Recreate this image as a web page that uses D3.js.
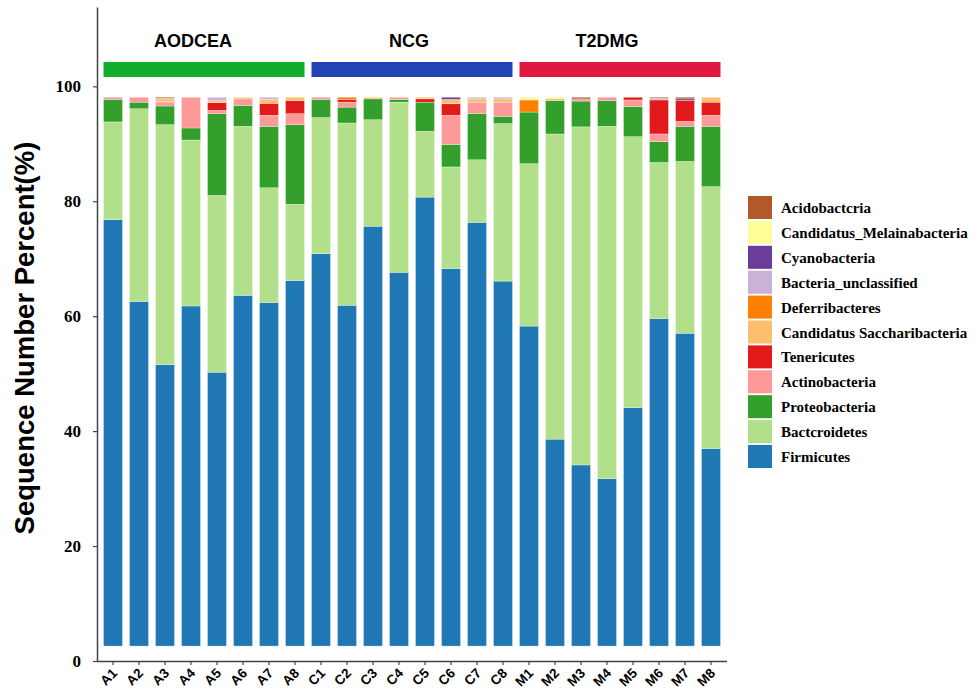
<!DOCTYPE html>
<html>
<head>
<meta charset="utf-8">
<script src="https://cdn.jsdelivr.net/npm/d3@7"></script>
<style>
    body { margin: 0; background: #fff; }
    svg { display: block; }
</style>
</head>
<body>
<svg id="chart" width="977" height="691"></svg>
<script>
// Samples and groups
const samples = ['A1', 'A2', 'A3', 'A4', 'A5', 'A6', 'A7', 'A8',
                 'C1', 'C2', 'C3', 'C4', 'C5', 'C6', 'C7', 'C8',
                 'M1', 'M2', 'M3', 'M4', 'M5', 'M6', 'M7', 'M8'];
const groupNames = ['AODCEA', 'NCG', 'T2DMG'];
const groupFirst = ['A1', 'C1', 'M1'];
const groupLast = ['A8', 'C8', 'M8'];
const groupColors = ['#13ac2b', '#2343b4', '#e0173e'];

// Phyla, bottom of the stack first
const phyla = ['Firmicutes', 'Bactcroidetes', 'Proteobacteria', 'Actinobacteria', 'Tenericutes',
               'Candidatus Saccharibacteria', 'Deferribacteres', 'Bacteria_unclassified',
               'Cyanobacteria', 'Candidatus_Melainabacteria', 'Acidobactcria'];
const phylumColors = ['#1f77b4', '#b2df8a', '#33a02c', '#fb9a99', '#e31a1c',
                      '#fdbf6f', '#ff7f00', '#cab2d6', '#6a3d9a', '#ffff99', '#b15928'];

// Relative abundance (%) per sample
const firmicutes     = [77.7, 62.8, 51.3, 61.9, 49.9, 63.9, 62.6, 66.6, 71.5, 62.1, 76.5, 68.1, 81.8, 68.8, 77.2, 66.5, 58.3, 37.7, 33.0, 30.5, 43.5, 59.7, 57.0, 36.0];
const bacteroidetes  = [17.8, 35.1, 43.7, 30.2, 32.2, 30.8, 20.9, 13.9, 24.8, 33.2, 19.4, 31.0, 12.0, 18.5, 11.4, 28.7, 29.6, 55.6, 61.6, 64.2, 49.4, 28.5, 31.3, 47.7];
const proteobacteria = [4.1, 1.2, 3.4, 2.2, 14.9, 3.8, 11.2, 14.5, 3.3, 2.9, 3.8, 0.5, 5.3, 4.1, 8.4, 1.3, 9.4, 6.1, 4.7, 4.7, 5.5, 3.8, 6.4, 11.0];
const actinobacteria = [0.4, 0.9, 0.7, 5.6, 0.6, 1.2, 2.0, 2.0, 0.4, 0.9, 0, 0.4, 0, 5.3, 2.1, 2.6, 0, 0, 0.4, 0.6, 1.2, 1.4, 0.9, 2.0];
const tenericutes    = [0, 0, 0.1, 0, 1.4, 0, 2.2, 2.4, 0, 0.5, 0, 0, 0.6, 2.1, 0, 0, 0, 0, 0, 0, 0.5, 6.2, 3.8, 2.4];
const saccharibacteria = [0, 0, 0.5, 0, 0.2, 0.3, 0.7, 0.6, 0, 0, 0.3, 0, 0.3, 0.8, 0.6, 0.6, 0, 0.4, 0, 0, 0, 0, 0, 0.9];
const deferribacteres  = [0, 0, 0.1, 0, 0.2, 0, 0, 0, 0, 0.4, 0, 0, 0, 0, 0, 0, 2.2, 0, 0, 0, 0, 0, 0, 0];
const unclassified   = [0, 0, 0, 0, 0.6, 0, 0.4, 0, 0, 0, 0, 0, 0, 0, 0.3, 0.3, 0, 0, 0, 0, 0, 0.3, 0, 0];
const cyanobacteria  = [0, 0, 0, 0, 0, 0, 0, 0, 0, 0, 0, 0, 0, 0.4, 0, 0, 0, 0, 0, 0, 0, 0, 0.3, 0];
const melainabacteria = [0, 0, 0, 0, 0, 0, 0, 0, 0, 0, 0, 0, 0, 0, 0, 0, 0.5, 0.2, 0, 0, 0, 0, 0, 0];
const acidobacteria  = [0, 0, 0.2, 0, 0, 0, 0, 0, 0, 0, 0, 0, 0, 0, 0, 0, 0, 0, 0.3, 0, 0, 0.2, 0.3, 0];

const seriesValues = [firmicutes, bacteroidetes, proteobacteria, actinobacteria, tenericutes,
                      saccharibacteria, deferribacteres, unclassified, cyanobacteria,
                      melainabacteria, acidobacteria];

const yTicks = [0, 20, 40, 60, 80, 100];

// group titles are not centred on their bars in the original
const labelShift = [-11, -3, -13];

// Build rows for d3.stack
const rows = samples.map((s, i) => {
    const row = { sample: s };
    phyla.forEach((p, j) => { row[p] = seriesValues[j][i]; });
    return row;
});

const svg = d3.select('#chart');

// Scales
const x = d3.scaleBand()
    .domain(samples)
    .range([100, 724])
    .paddingInner(0.27)
    .paddingOuter(0.135);

const y = d3.scaleLinear()
    .domain([0, 113.8])
    .range([661, 7]);

// bars sit slightly above zero and stop just under 100
const barY = d3.scaleLinear()
    .domain([0, 1])
    .range([y(2.6), y(98.1)]);

const color = d3.scaleOrdinal().domain(phyla).range(phylumColors);

const stack = d3.stack()
    .keys(phyla)
    .offset(d3.stackOffsetExpand);
const layers = stack(rows);

// Stacked bars
svg.append('g')
    .selectAll('g')
    .data(layers)
    .join('g')
    .attr('fill', d => color(d.key))
    .selectAll('rect')
    .data(d => d.filter(v => v[1] - v[0] > 0))
    .join('rect')
    .attr('x', d => x(d.data.sample))
    .attr('width', x.bandwidth())
    .attr('y', d => barY(d[1]))
    .attr('height', d => barY(d[0]) - barY(d[1]))
    .attr('stroke', '#fff')
    .attr('stroke-width', 0.5)
    .attr('stroke-opacity', 0.6);

// Group header bars and labels
const groups = svg.append('g');
groupNames.forEach((g, i) => {
    const x0 = x(groupFirst[i]);
    const x1 = x(groupLast[i]) + x.bandwidth();
    groups.append('rect')
        .attr('x', x0)
        .attr('y', 62)
        .attr('width', x1 - x0)
        .attr('height', 15)
        .attr('fill', groupColors[i]);
    groups.append('text')
        .attr('x', (x0 + x1) / 2 + labelShift[i])
        .attr('y', 47)
        .attr('text-anchor', 'middle')
        .style('font-family', '"Liberation Sans", Arial, sans-serif')
        .style('font-size', '18px')
        .style('font-weight', 'bold')
        .text(g);
});

// Y axis
const yAxis = svg.append('g')
    .attr('transform', 'translate(97,0)')
    .call(d3.axisLeft(y).tickValues(yTicks).tickSize(4).tickSizeOuter(0).tickPadding(12));
yAxis.select('.domain').attr('stroke', '#444').attr('stroke-width', 1.5);
yAxis.selectAll('.tick line').attr('stroke', '#444').attr('stroke-width', 1.2);
yAxis.selectAll('.tick text')
    .style('font-family', '"Liberation Serif", "Times New Roman", serif')
    .style('font-size', '17px')
    .style('font-weight', 'bold')
    .attr('fill', '#000');

// X axis
const xAxis = svg.append('g')
    .attr('transform', `translate(0,${y(0)})`)
    .call(d3.axisBottom(x).tickSize(4).tickSizeOuter(0));
xAxis.select('.domain').attr('d', 'M97,0.5H727').attr('stroke', '#444').attr('stroke-width', 1.5);
xAxis.selectAll('.tick line').attr('stroke', '#444').attr('stroke-width', 1.2);
xAxis.selectAll('.tick text')
    .attr('text-anchor', 'end')
    .attr('dy', null)
    .attr('x', 0)
    .attr('y', 0)
    .attr('transform', 'translate(5,13) rotate(-45)')
    .style('font-family', '"Liberation Sans", Arial, sans-serif')
    .style('font-size', '13.5px')
    .style('font-weight', 'bold')
    .attr('fill', '#000');

// Y axis title
svg.append('text')
    .attr('transform', 'translate(34,338) rotate(-90)')
    .attr('text-anchor', 'middle')
    .style('font-family', '"Liberation Sans", Arial, sans-serif')
    .style('font-size', '27.5px')
    .style('font-weight', 'bold')
    .text('Sequence Number Percent(%)');

// Legend, top to bottom is top of stack to bottom
const legendItems = phyla.slice().reverse();
const legend = svg.append('g')
    .attr('transform', 'translate(748,196)')
    .selectAll('g')
    .data(legendItems)
    .join('g')
    .attr('transform', (d, i) => `translate(0,${i * 24.9})`);

legend.append('rect')
    .attr('width', 24)
    .attr('height', 23)
    .attr('fill', d => color(d));

legend.append('text')
    .attr('x', 33)
    .attr('y', 17)
    .style('font-family', '"Liberation Serif", "Times New Roman", serif')
    .style('font-size', '15px')
    .style('font-weight', 'bold')
    .text(d => d);
</script>
</body>
</html>
